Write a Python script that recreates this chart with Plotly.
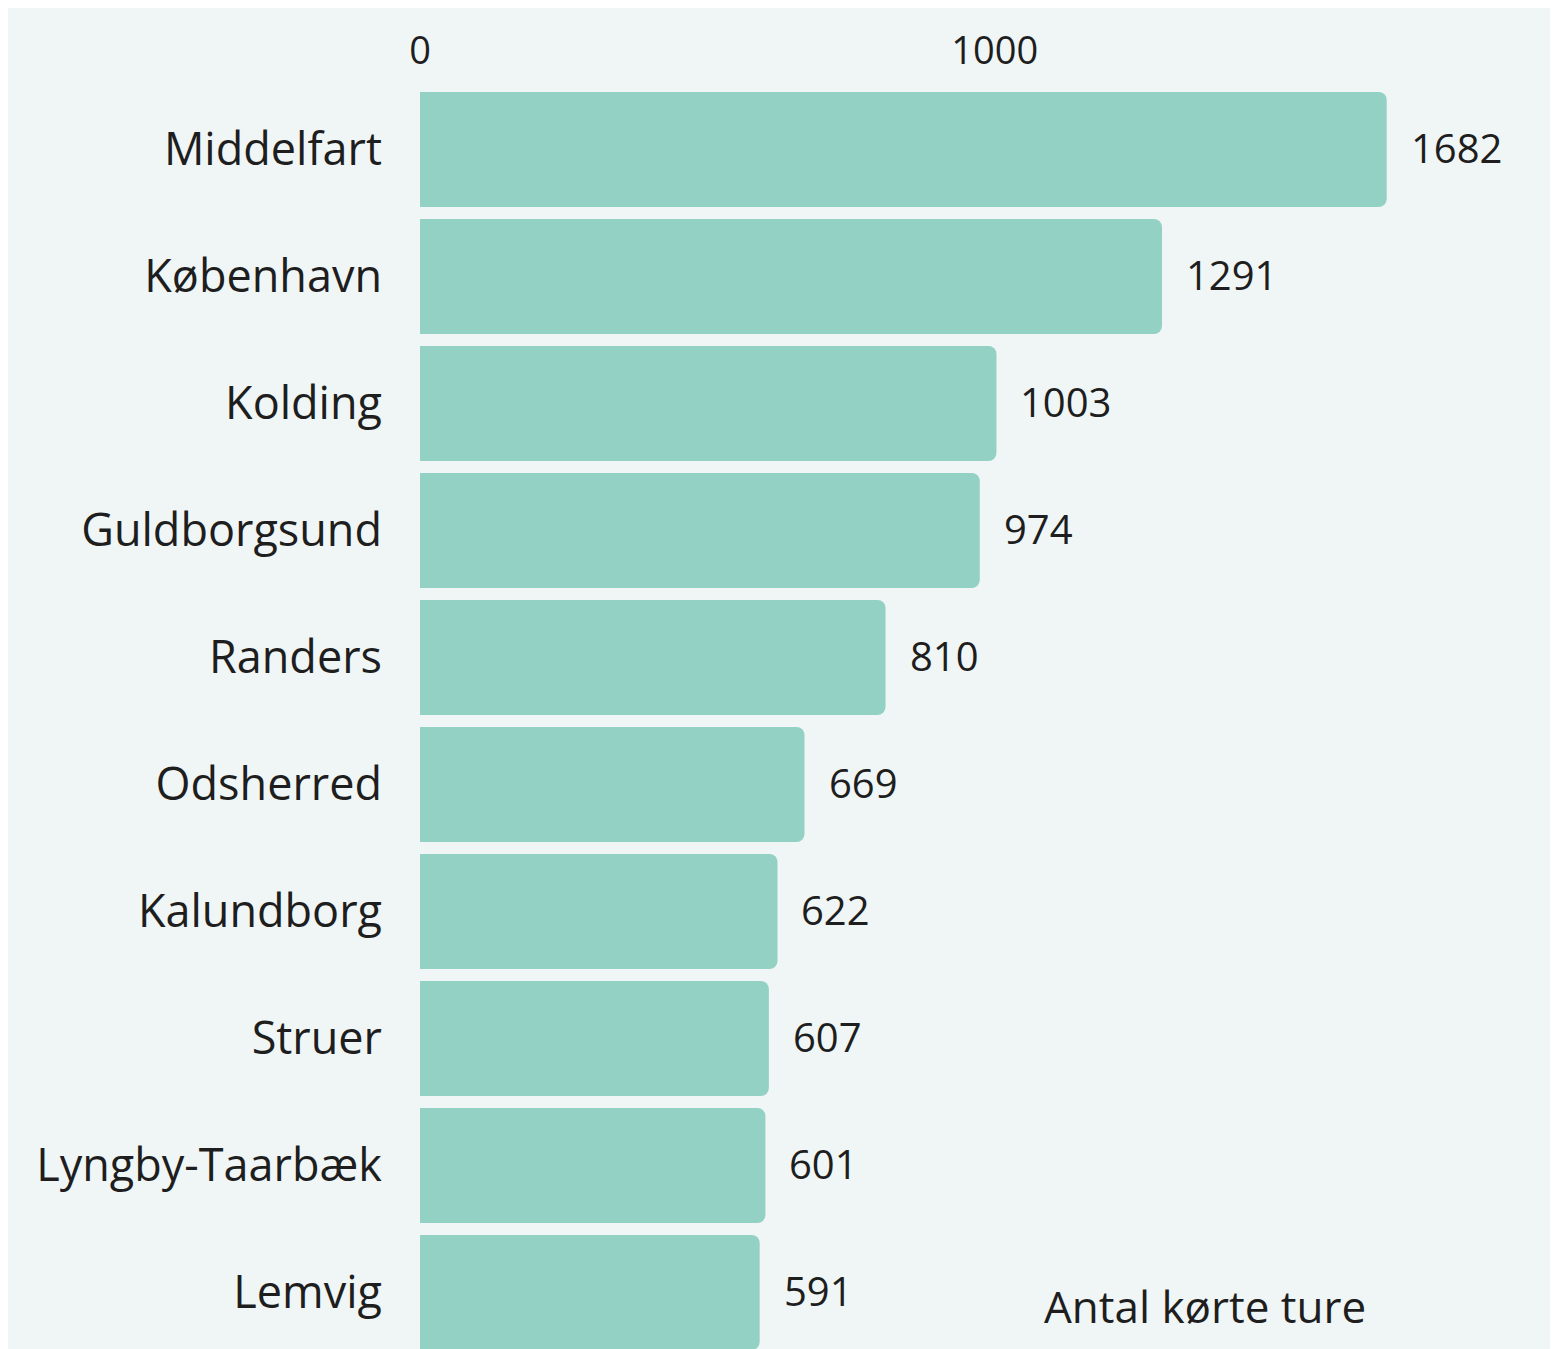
import plotly.graph_objects as go

categories = ["Middelfart", "København", "Kolding", "Guldborgsund", "Randers",
              "Odsherred", "Kalundborg", "Struer", "Lyngby-Taarbæk", "Lemvig"]
values = [1682, 1291, 1003, 974, 810, 669, 622, 607, 601, 591]
tick_vals = [0, 1000]
tick_text = ["0", "1000"]
axis_title = "Antal kørte ture"

BG = "#f0f6f6"
BAR = "#93d1c5"
TXT = "#1e1e1e"
FONT = "Open Sans"

fig = go.Figure()
fig.add_trace(go.Bar(
    x=values, y=categories, orientation="h",
    marker=dict(color=BAR, line=dict(width=0)),
    hoverinfo="skip",
))

for c, v in zip(categories, values):
    fig.add_annotation(x=v, y=c, xref="x", yref="y", text=str(v),
                       showarrow=False, xanchor="left", yanchor="middle",
                       xshift=22, yshift=2,
                       font=dict(family=FONT, size=40, color=TXT))

fig.add_annotation(x=0.57, y=0.039, xref="paper", yref="paper",
                   text=axis_title, showarrow=False,
                   xanchor="left", yanchor="middle",
                   font=dict(family=FONT, size=44, color=TXT))

fig.update_layout(
    width=1548, height=1348,
    margin=dict(l=412, r=43.5, t=78, b=0, autoexpand=False),
    paper_bgcolor=BG, plot_bgcolor=BG,
    bargap=0.095, barcornerradius=8,
    showlegend=False,
    font=dict(family=FONT, color=TXT),
)
fig.update_xaxes(side="top", range=[0, 1900], tickvals=tick_vals, ticktext=tick_text,
                 showgrid=False, zeroline=False, showline=False,
                 ticks="outside", ticklen=6, tickcolor=BG,
                 tickfont=dict(family=FONT, size=38, color=TXT))
fig.update_yaxes(autorange="reversed", showgrid=False, zeroline=False, showline=False,
                 ticks="outside", ticklen=28, tickcolor=BG,
                 tickfont=dict(family=FONT, size=45, color=TXT))

fig.write_html("out.html")
